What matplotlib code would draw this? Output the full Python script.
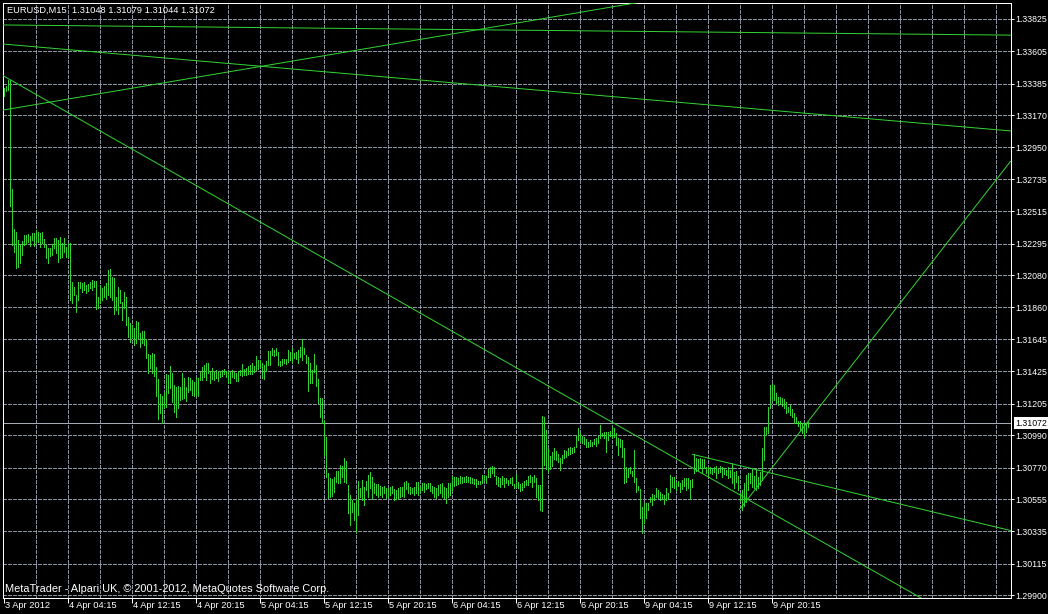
import matplotlib
matplotlib.use('Agg')
import matplotlib.pyplot as plt

plt.rcParams['font.family'] = ['Liberation Sans', 'DejaVu Sans']

# EURUSD M15 bars, 3 Apr 20:15 -> 9 Apr (high / low per bar)
highs = [
    1.33355, 1.33368, 1.33409, 1.33409, 1.32667, 1.32395, 1.32374, 1.32320, 1.32286, 1.32313,
    1.32354, 1.32354, 1.32361, 1.32347, 1.32368, 1.32368, 1.32388, 1.32374, 1.32368, 1.32374,
    1.32327, 1.32286, 1.32265, 1.32265, 1.32292, 1.32333, 1.32333, 1.32320, 1.32340, 1.32299,
    1.32333, 1.32272, 1.32299, 1.32299, 1.32034, 1.32000, 1.31945, 1.32034, 1.32034, 1.32027,
    1.32034, 1.32013, 1.32020, 1.32034, 1.32047, 1.32040, 1.32040, 1.31932, 1.32013, 1.31993,
    1.32007, 1.32027, 1.32115, 1.32122, 1.32068, 1.32061, 1.31932, 1.32000, 1.31979, 1.31897,
    1.31966, 1.31932, 1.31795, 1.31754, 1.31741, 1.31720, 1.31768, 1.31761, 1.31686, 1.31700,
    1.31700, 1.31645, 1.31543, 1.31536, 1.31550, 1.31543, 1.31454, 1.31373, 1.31271, 1.31257,
    1.31284, 1.31407, 1.31400, 1.31461, 1.31414, 1.31332, 1.31318, 1.31325, 1.31318, 1.31414,
    1.31380, 1.31318, 1.31386, 1.31380, 1.31366, 1.31352, 1.31386, 1.31380, 1.31421, 1.31454,
    1.31468, 1.31482, 1.31482, 1.31427, 1.31448, 1.31421, 1.31434, 1.31421, 1.31427, 1.31434,
    1.31441, 1.31427, 1.31427, 1.31421, 1.31434, 1.31421, 1.31414, 1.31427, 1.31434, 1.31475,
    1.31441, 1.31448, 1.31461, 1.31468, 1.31482, 1.31461, 1.31529, 1.31502, 1.31502, 1.31482,
    1.31468, 1.31495, 1.31563, 1.31563, 1.31584, 1.31570, 1.31584, 1.31557, 1.31495, 1.31509,
    1.31509, 1.31509, 1.31570, 1.31557, 1.31584, 1.31550, 1.31557, 1.31570, 1.31591, 1.31645,
    1.31584, 1.31536, 1.31523, 1.31482, 1.31434, 1.31543, 1.31468, 1.31373, 1.31244, 1.31244,
    1.31094, 1.30978, 1.30733, 1.30699, 1.30692, 1.30706, 1.30746, 1.30746, 1.30787, 1.30780,
    1.30835, 1.30815, 1.30651, 1.30583, 1.30549, 1.30528, 1.30556, 1.30678, 1.30631, 1.30685,
    1.30638, 1.30678, 1.30719, 1.30740, 1.30706, 1.30665, 1.30658, 1.30658, 1.30644, 1.30638,
    1.30644, 1.30631, 1.30631, 1.30638, 1.30644, 1.30624, 1.30617, 1.30631, 1.30638, 1.30638,
    1.30672, 1.30678, 1.30665, 1.30638, 1.30631, 1.30638, 1.30672, 1.30672, 1.30638, 1.30665,
    1.30665, 1.30658, 1.30665, 1.30665, 1.30644, 1.30638, 1.30631, 1.30651, 1.30658, 1.30665,
    1.30638, 1.30631, 1.30665, 1.30665, 1.30712, 1.30706, 1.30706, 1.30699, 1.30712, 1.30706,
    1.30706, 1.30712, 1.30706, 1.30706, 1.30699, 1.30692, 1.30692, 1.30678, 1.30678, 1.30719,
    1.30719, 1.30712, 1.30760, 1.30774, 1.30780, 1.30774, 1.30712, 1.30706, 1.30699, 1.30712,
    1.30699, 1.30699, 1.30685, 1.30699, 1.30706, 1.30658, 1.30726, 1.30672, 1.30658, 1.30665,
    1.30678, 1.30685, 1.30712, 1.30719, 1.30706, 1.30719, 1.30699, 1.30651, 1.30651, 1.31121,
    1.31114, 1.31026, 1.30897, 1.30849, 1.30876, 1.30903, 1.30883, 1.30862, 1.30835, 1.30856,
    1.30890, 1.30883, 1.30903, 1.30910, 1.30903, 1.30910, 1.30985, 1.31039, 1.31005, 1.30985,
    1.30978, 1.30964, 1.30944, 1.30958, 1.30944, 1.30964, 1.30971, 1.30985, 1.31060, 1.31005,
    1.31012, 1.31012, 1.31012, 1.31019, 1.31046, 1.31039, 1.31005, 1.30971, 1.30964, 1.30958,
    1.30903, 1.30774, 1.30767, 1.30774, 1.30746, 1.30890, 1.30699, 1.30644, 1.30624, 1.30501,
    1.30528, 1.30528, 1.30528, 1.30570, 1.30590, 1.30583, 1.30631, 1.30617, 1.30604, 1.30590,
    1.30583, 1.30631, 1.30597, 1.30719, 1.30706, 1.30706, 1.30672, 1.30678, 1.30665, 1.30685,
    1.30699, 1.30699, 1.30699, 1.30685, 1.30692, 1.30862, 1.30835, 1.30828, 1.30835, 1.30828,
    1.30828, 1.30774, 1.30774, 1.30774, 1.30767, 1.30774, 1.30780, 1.30760, 1.30780, 1.30774,
    1.30767, 1.30753, 1.30774, 1.30753, 1.30801, 1.30740, 1.30746, 1.30712, 1.30597, 1.30617,
    1.30665, 1.30719, 1.30733, 1.30733, 1.30760, 1.30712, 1.30753, 1.30706, 1.30740, 1.30903,
    1.31046, 1.31046, 1.31182, 1.31332, 1.31339, 1.31332, 1.31277, 1.31250, 1.31250, 1.31244,
    1.31237, 1.31216, 1.31182, 1.31196, 1.31169, 1.31141, 1.31114, 1.31087, 1.31087, 1.31073,
    1.31073, 1.31073, 1.31079,
]
lows = [
    1.33300, 1.33334, 1.33341, 1.32551, 1.32286, 1.32238, 1.32129, 1.32136, 1.32163, 1.32217,
    1.32286, 1.32292, 1.32306, 1.32279, 1.32320, 1.32279, 1.32306, 1.32306, 1.32272, 1.32299,
    1.32272, 1.32197, 1.32163, 1.32211, 1.32217, 1.32265, 1.32231, 1.32170, 1.32197, 1.32204,
    1.32238, 1.32204, 1.32204, 1.31911, 1.31891, 1.31945, 1.31829, 1.31911, 1.31993, 1.31966,
    1.31979, 1.31959, 1.31972, 1.31993, 1.31979, 1.32000, 1.31850, 1.31857, 1.31891, 1.31911,
    1.31932, 1.31918, 1.31945, 1.31932, 1.31911, 1.31816, 1.31843, 1.31816, 1.31891, 1.31775,
    1.31857, 1.31741, 1.31659, 1.31625, 1.31652, 1.31605, 1.31618, 1.31652, 1.31591, 1.31618,
    1.31605, 1.31516, 1.31414, 1.31448, 1.31414, 1.31393, 1.31257, 1.31101, 1.31142, 1.31074,
    1.31175, 1.31182, 1.31278, 1.31312, 1.31216, 1.31148, 1.31114, 1.31175, 1.31230, 1.31237,
    1.31244, 1.31223, 1.31284, 1.31298, 1.31264, 1.31257, 1.31264, 1.31257, 1.31366, 1.31366,
    1.31386, 1.31366, 1.31414, 1.31346, 1.31373, 1.31366, 1.31380, 1.31359, 1.31386, 1.31393,
    1.31407, 1.31386, 1.31346, 1.31346, 1.31386, 1.31380, 1.31359, 1.31359, 1.31400, 1.31393,
    1.31400, 1.31400, 1.31407, 1.31407, 1.31407, 1.31420, 1.31434, 1.31441, 1.31454, 1.31380,
    1.31373, 1.31427, 1.31468, 1.31468, 1.31536, 1.31529, 1.31536, 1.31468, 1.31461, 1.31468,
    1.31482, 1.31475, 1.31489, 1.31502, 1.31489, 1.31516, 1.31509, 1.31482, 1.31523, 1.31502,
    1.31543, 1.31482, 1.31291, 1.31346, 1.31346, 1.31421, 1.31325, 1.31209, 1.31114, 1.31074,
    1.30855, 1.30705, 1.30563, 1.30570, 1.30576, 1.30604, 1.30671, 1.30665, 1.30665, 1.30706,
    1.30671, 1.30665, 1.30460, 1.30379, 1.30467, 1.30413, 1.30331, 1.30447, 1.30570, 1.30549,
    1.30515, 1.30617, 1.30570, 1.30631, 1.30556, 1.30597, 1.30583, 1.30570, 1.30583, 1.30570,
    1.30597, 1.30563, 1.30570, 1.30583, 1.30597, 1.30549, 1.30556, 1.30556, 1.30570, 1.30576,
    1.30570, 1.30624, 1.30597, 1.30590, 1.30597, 1.30583, 1.30597, 1.30583, 1.30604, 1.30617,
    1.30604, 1.30624, 1.30631, 1.30610, 1.30597, 1.30570, 1.30563, 1.30583, 1.30597, 1.30570,
    1.30563, 1.30528, 1.30570, 1.30583, 1.30617, 1.30644, 1.30651, 1.30658, 1.30665, 1.30665,
    1.30672, 1.30672, 1.30672, 1.30665, 1.30665, 1.30658, 1.30638, 1.30658, 1.30658, 1.30665,
    1.30685, 1.30665, 1.30706, 1.30706, 1.30733, 1.30712, 1.30658, 1.30644, 1.30638, 1.30658,
    1.30638, 1.30665, 1.30651, 1.30665, 1.30651, 1.30631, 1.30638, 1.30631, 1.30610, 1.30617,
    1.30638, 1.30651, 1.30651, 1.30672, 1.30638, 1.30672, 1.30570, 1.30549, 1.30481, 1.30474,
    1.30787, 1.30760, 1.30740, 1.30760, 1.30780, 1.30828, 1.30821, 1.30808, 1.30753, 1.30801,
    1.30835, 1.30842, 1.30856, 1.30862, 1.30869, 1.30876, 1.30910, 1.30958, 1.30951, 1.30937,
    1.30930, 1.30910, 1.30910, 1.30917, 1.30917, 1.30930, 1.30917, 1.30937, 1.30971, 1.30985,
    1.30971, 1.30876, 1.30958, 1.30985, 1.30971, 1.30978, 1.30924, 1.30856, 1.30910, 1.30842,
    1.30665, 1.30672, 1.30706, 1.30733, 1.30712, 1.30672, 1.30604, 1.30617, 1.30426, 1.30324,
    1.30392, 1.30426, 1.30481, 1.30535, 1.30515, 1.30549, 1.30570, 1.30563, 1.30549, 1.30556,
    1.30522, 1.30549, 1.30556, 1.30604, 1.30638, 1.30631, 1.30617, 1.30644, 1.30604, 1.30624,
    1.30644, 1.30617, 1.30631, 1.30556, 1.30638, 1.30733, 1.30746, 1.30753, 1.30767, 1.30733,
    1.30767, 1.30733, 1.30706, 1.30733, 1.30726, 1.30740, 1.30699, 1.30733, 1.30740, 1.30706,
    1.30726, 1.30719, 1.30699, 1.30706, 1.30665, 1.30631, 1.30672, 1.30617, 1.30549, 1.30481,
    1.30508, 1.30535, 1.30617, 1.30665, 1.30638, 1.30631, 1.30617, 1.30631, 1.30651, 1.30685,
    1.30821, 1.30992, 1.31005, 1.31175, 1.31230, 1.31230, 1.31209, 1.31196, 1.31209, 1.31189,
    1.31175, 1.31141, 1.31148, 1.31128, 1.31114, 1.31073, 1.31073, 1.31053, 1.31026, 1.31005,
    1.30978, 1.31012, 1.31044,
]

x_labels = ['3 Apr 2012', '4 Apr 04:15', '4 Apr 12:15', '4 Apr 20:15', '5 Apr 04:15',
            '5 Apr 12:15', '5 Apr 20:15', '6 Apr 04:15', '6 Apr 12:15', '6 Apr 20:15',
            '9 Apr 04:15', '9 Apr 12:15', '9 Apr 20:15']
x_label_bars = [0, 32, 64, 96, 128, 160, 192, 224, 256, 288, 320, 352, 384]
y_labels = ['1.33825', '1.33605', '1.33385', '1.33170', '1.32950', '1.32735', '1.32515',
            '1.32295', '1.32080', '1.31860', '1.31645', '1.31425', '1.31205', '1.30990',
            '1.30770', '1.30555', '1.30335', '1.30115', '1.29900']

# trend lines: (bar1, price1, bar2, price2, starts at left edge)
trend_lines = [
    (0, 1.33784, 400, 1.33729, True),
    (0, 1.33654, 400, 1.33184, True),
    (0, 1.33205, 300, 1.33897, True),
    (0, 1.33437, 400, 1.30337, True),
    (344.5, 1.30860, 503.25, 1.30342, False),
    (368, 1.30484, 408, 1.31184, False),
]
last_price = 1.31072
title = 'EURUSD,M15  1.31048 1.31079 1.31044 1.31072'
footer = 'MetaTrader - Alpari UK, \u00a9 2001-2012, MetaQuotes Software Corp.'

green = '#32d232'
gridc = '#8a94a0'
fs = 6.7
px = 0.72  # one pixel in points

W, H = 1048, 614
fig = plt.figure(figsize=(W / 100, H / 100), dpi=100, facecolor='black')
ax = fig.add_axes([2.5 / W, 16.5 / H, 1008 / W, 595 / H], facecolor='black')
x0, x1 = -0.5, 503.5
ax.set_xlim(x0, x1)
ax.set_ylim(1.29885, 1.33937)

# grid
for v in y_labels:
    ax.axhline(float(v), color=gridc, lw=px, ls=(0, (3, 2)), antialiased=False, zorder=1)
for b in range(16, 504, 16):
    ax.axvline(b, color=gridc, lw=px, ls=(0, (3, 2)), antialiased=False, zorder=1)

# price line
ax.axhline(last_price, color='#a3aab3', lw=px, antialiased=False, zorder=2)

# bars
ax.vlines(range(len(highs)), lows, highs, colors=green, lw=px, antialiased=False, zorder=3)

# trend lines
for b1, p1, b2, p2, from_left in trend_lines:
    k = (p2 - p1) / (b2 - b1)
    xa = x0 if from_left else b1
    ax.plot([xa, x1], [p1 + k * (xa - b1), p1 + k * (x1 - b1)], color=green, lw=px,
            antialiased=True, zorder=4)

for s in ax.spines.values():
    s.set_color('white')
    s.set_linewidth(px)

ax.set_yticks([float(v) for v in y_labels])
ax.set_yticklabels(y_labels)
ax.yaxis.tick_right()
ax.tick_params(axis='y', length=2.2, width=px, color='white', labelcolor='white',
               labelsize=6.3, pad=1.6)
ax.set_xticks(x_label_bars)
ax.set_xticklabels([])
ax.tick_params(axis='x', length=3.6, width=px, color='white')
for b, lbl in zip(x_label_bars, x_labels):
    ax.annotate(lbl, xy=(b, 0), xycoords=('data', 'axes fraction'), xytext=(1.4, -6.1),
                textcoords='offset points', ha='left', va='center', color='white',
                fontsize=fs, annotation_clip=False)

# current price tag
ax.annotate(f'{last_price:.5f}', xy=(1, last_price), xycoords=('axes fraction', 'data'),
            xytext=(3.4, 0), textcoords='offset points', ha='left', va='center',
            color='black', fontsize=6.3, annotation_clip=False,
            bbox=dict(boxstyle='square,pad=0.15', fc='white', ec='none'))

fig.text(7 / W, 1 - 10.5 / H, title, ha='left', va='center', color='white', fontsize=fs)
fig.text(5 / W, 1 - 589 / H, footer, ha='left', va='center', color='white', fontsize=7.9)

fig.savefig('out.png', dpi=100, facecolor='black')
